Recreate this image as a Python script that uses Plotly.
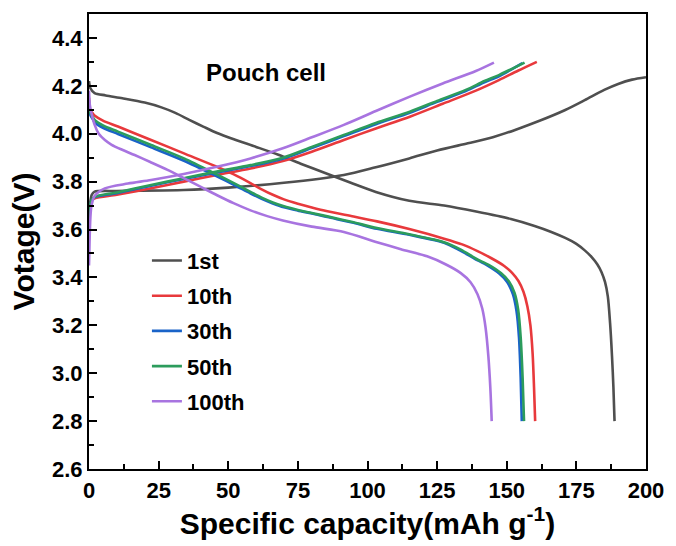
import plotly.graph_objects as go

# Charge/discharge profiles of a pouch cell at selected cycles
cycles = ["1st", "10th", "30th", "50th", "100th"]
colors = ["#4f4f4f", "#e8393c", "#1a63c8", "#2c9c5c", "#a874e0"]

# discharge branches: capacity (mAh g-1) and voltage (V)
dis_cap_1 = [0, 0.5, 2, 6, 12, 20, 26, 31, 36, 41, 46, 52, 60, 68, 76, 85, 94, 103, 115, 127.5, 139, 151.5, 160, 166, 171, 175, 178, 180.5, 182.5, 184, 185.3, 186.3, 187.1, 187.8, 188.3, 188.7]
dis_v_1 = [4.22, 4.19, 4.17, 4.16, 4.148, 4.13, 4.11, 4.087, 4.058, 4.03, 4.003, 3.977, 3.945, 3.912, 3.875, 3.835, 3.795, 3.757, 3.72, 3.70, 3.675, 3.644, 3.615, 3.59, 3.565, 3.54, 3.513, 3.485, 3.455, 3.423, 3.38, 3.32, 3.21, 3.07, 2.94, 2.8]

dis_cap_10 = [0, 0.4, 1.2, 2.1, 5, 10.4, 22.3, 34.1, 45.9, 52, 57.8, 62, 66, 70, 75, 80, 85.6, 95, 103.4, 115, 127.5, 134, 139.5, 144.5, 149.1, 152, 154.2, 156, 157.4, 158.5, 159.3, 159.8, 160.2]
dis_v_10 = [4.15, 4.10, 4.087, 4.075, 4.055, 4.03, 3.974, 3.918, 3.862, 3.83, 3.795, 3.768, 3.745, 3.726, 3.708, 3.692, 3.676, 3.654, 3.634, 3.602, 3.562, 3.538, 3.51, 3.48, 3.448, 3.418, 3.385, 3.34, 3.28, 3.2, 3.08, 2.94, 2.8]

dis_cap_30 = [0, 0.4, 1.2, 2.1, 5, 10.4, 22.3, 34.1, 45.9, 52, 57.8, 62, 66, 70, 75, 80, 85.6, 95, 103.4, 115, 127.5, 133, 138.5, 143, 147.4, 150.2, 152.2, 153.5, 154.4, 155.0, 155.4]
dis_v_30 = [4.13, 4.08, 4.064, 4.047, 4.025, 3.999, 3.943, 3.887, 3.822, 3.787, 3.752, 3.728, 3.709, 3.693, 3.679, 3.667, 3.652, 3.628, 3.603, 3.578, 3.545, 3.514, 3.478, 3.45, 3.415, 3.38, 3.33, 3.26, 3.15, 2.98, 2.8]

dis_cap_50 = [0, 0.4, 1.2, 2.1, 5, 10.4, 22.3, 34.1, 45.9, 52, 57.8, 62, 66, 70, 75, 80, 85.6, 95, 103.4, 115, 127.5, 133.5, 139.0, 143.5, 147.9, 150.8, 152.8, 154.1, 155.0, 155.7, 156.2]
dis_v_50 = [4.14, 4.09, 4.072, 4.057, 4.035, 4.009, 3.953, 3.897, 3.83, 3.794, 3.758, 3.733, 3.713, 3.697, 3.682, 3.669, 3.655, 3.63, 3.606, 3.58, 3.547, 3.516, 3.478, 3.452, 3.418, 3.383, 3.335, 3.265, 3.15, 2.98, 2.8]

dis_cap_100 = [0, 0.3, 0.9, 2.1, 3.5, 5.7, 8, 11.5, 16.4, 22, 28.2, 34, 40, 46, 51.9, 58, 64, 69.6, 80, 91.5, 103.4, 112, 121.4, 128, 133.5, 137, 139.5, 141.2, 142.4, 143.4, 144.1, 144.6]
dis_v_100 = [4.18, 4.12, 4.085, 4.035, 4.0, 3.974, 3.955, 3.935, 3.911, 3.882, 3.849, 3.815, 3.779, 3.743, 3.71, 3.68, 3.656, 3.638, 3.612, 3.59, 3.547, 3.518, 3.488, 3.455, 3.418, 3.38, 3.33, 3.27, 3.19, 3.07, 2.94, 2.8]

# charge branches
chg_cap_1 = [0, 0.3, 1, 2, 10, 34, 50, 70, 91.5, 103, 115, 125, 136, 145, 153, 162, 171, 178, 185, 190, 195, 200]
chg_v_1 = [3.62, 3.70, 3.745, 3.758, 3.761, 3.765, 3.775, 3.795, 3.828, 3.86, 3.897, 3.93, 3.96, 3.985, 4.016, 4.055, 4.099, 4.14, 4.183, 4.208, 4.226, 4.236]

chg_cap_10 = [0, 0.3, 1, 2.1, 10, 22.3, 34, 45.9, 58, 69.6, 80, 91.5, 103, 115.2, 127, 138.9, 147.2, 154, 160.8]
chg_v_10 = [3.58, 3.68, 3.72, 3.73, 3.745, 3.772, 3.8, 3.828, 3.855, 3.886, 3.925, 3.974, 4.022, 4.071, 4.125, 4.18, 4.224, 4.263, 4.30]

chg_cap_30 = [0, 0.3, 1, 2.1, 10, 22.3, 34, 45.9, 58, 69.6, 80, 91.5, 103, 115.2, 125, 135.3, 142, 147.2, 155.6]
chg_v_30 = [3.6, 3.69, 3.722, 3.735, 3.752, 3.783, 3.811, 3.838, 3.865, 3.896, 3.94, 3.99, 4.04, 4.088, 4.133, 4.178, 4.215, 4.24, 4.295]

chg_cap_50 = [0, 0.3, 1, 2.1, 10, 22.3, 34, 45.9, 58, 69.6, 80, 91.5, 103, 115.2, 125, 135.3, 142, 147.2, 156.4]
chg_v_50 = [3.6, 3.69, 3.725, 3.737, 3.755, 3.786, 3.814, 3.842, 3.869, 3.9, 3.945, 3.995, 4.045, 4.092, 4.137, 4.183, 4.22, 4.245, 4.297]

chg_cap_100 = [0, 0.2, 0.5, 0.9, 2, 5.7, 14, 22.3, 34, 45.9, 58, 69.6, 80, 91.5, 103, 115.2, 127, 138.9, 145.4]
chg_v_100 = [3.45, 3.55, 3.65, 3.70, 3.74, 3.772, 3.792, 3.807, 3.832, 3.862, 3.897, 3.939, 3.985, 4.037, 4.095, 4.155, 4.21, 4.262, 4.297]

x_ticks = [0, 25, 50, 75, 100, 125, 150, 175, 200]
y_ticks = [2.6, 2.8, 3.0, 3.2, 3.4, 3.6, 3.8, 4.0, 4.2, 4.4]

discharge = [(dis_cap_1, dis_v_1), (dis_cap_10, dis_v_10), (dis_cap_30, dis_v_30),
             (dis_cap_50, dis_v_50), (dis_cap_100, dis_v_100)]
charge = [(chg_cap_1, chg_v_1), (chg_cap_10, chg_v_10), (chg_cap_30, chg_v_30),
          (chg_cap_50, chg_v_50), (chg_cap_100, chg_v_100)]

FONT = "Liberation Sans, Arial, sans-serif"

fig = go.Figure()
for name, col, (dx, dy), (cx, cy) in zip(cycles, colors, discharge, charge):
    # one trace per cycle: discharge branch, gap, charge branch
    xs = list(dx) + [None] + list(cx)
    ys = list(dy) + [None] + list(cy)
    fig.add_trace(go.Scatter(
        x=xs, y=ys, mode="lines", name=name, legendgroup=name,
        line=dict(color=col, width=2.6, shape="spline", smoothing=0.8),
        connectgaps=False,
    ))

fig.add_annotation(x=63.5, y=4.254, text="Pouch cell", showarrow=False,
                   font=dict(family=FONT, size=24, color="black", weight="bold"))

axis_common = dict(
    showline=True, linecolor="black", linewidth=2.2, mirror=True,
    ticks="inside", ticklen=8, tickwidth=2, tickcolor="black",
    showgrid=False, zeroline=False,
    tickfont=dict(family=FONT, size=22, color="black", weight="bold"),
)

fig.update_xaxes(
    range=[0, 200], tickvals=x_ticks, ticktext=[str(v) for v in x_ticks],
    minor=dict(ticks="inside", ticklen=5, tickwidth=2, tickcolor="black", dtick=12.5, tick0=0),
    title=dict(text="Specific capacity(mAh g<sup>-1</sup>)", standoff=6,
               font=dict(family=FONT, size=30, color="black", weight="bold")),
    **axis_common,
)
fig.update_yaxes(
    range=[2.6, 4.5], tickvals=y_ticks, ticktext=[f"{v:.1f}" for v in y_ticks],
    minor=dict(ticks="inside", ticklen=5, tickwidth=2, tickcolor="black", dtick=0.1, tick0=2.6),
    title=dict(text="Votage(V)", standoff=8,
               font=dict(family=FONT, size=30, color="black", weight="bold")),
    **axis_common,
)

fig.update_layout(
    width=676, height=546,
    margin=dict(l=89, r=24, t=14, b=77),
    plot_bgcolor="white", paper_bgcolor="white",
    showlegend=True,
    legend=dict(
        x=0.104, y=0.504, xanchor="left", yanchor="top",
        bgcolor="rgba(0,0,0,0)", borderwidth=0,
        font=dict(family=FONT, size=22, color="black", weight="bold"),
        tracegroupgap=3.6,
    ),
)

fig.write_html("out.html")
